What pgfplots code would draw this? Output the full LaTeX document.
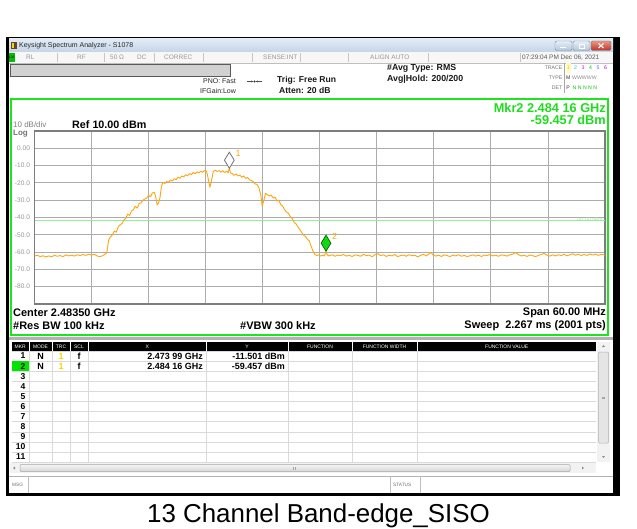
\documentclass[border=0pt]{standalone}
\usepackage{pgfplots}
\pgfplotsset{compat=1.18}
\usepackage{pgfplotstable}
\usetikzlibrary{arrows.meta}
\usepackage{fontspec}
\setmainfont{Liberation Sans}
\definecolor{tracec}{RGB}{255,165,15}
\definecolor{gridc}{RGB}{172,172,172}
\definecolor{framec}{RGB}{125,125,125}
\definecolor{scrgreen}{RGB}{30,228,30}
\definecolor{mkrgreen}{RGB}{30,220,30}
\definecolor{dlgreen}{RGB}{150,235,150}
\definecolor{lblgray}{RGB}{150,150,150}
\definecolor{stgray}{RGB}{150,150,150}
\definecolor{cellline}{RGB}{218,218,218}
\newcommand{\fs}[1]{\fontsize{#1}{#1}\selectfont}

\pgfplotstableread{
f p
2453.5 -62.3
2453.8 -61.8
2454.1 -62.6
2454.4 -62.1
2454.7 -62.8
2455.0 -62.2
2455.3 -62.7
2455.6 -61.9
2455.9 -62.4
2456.2 -62.0
2456.5 -62.6
2456.8 -61.6
2457.1 -62.2
2457.4 -61.8
2457.7 -62.3
2458.0 -61.5
2458.3 -62.0
2458.6 -61.4
2458.9 -61.9
2459.2 -61.2
2459.5 -61.7
2459.8 -61.3
2460.1 -62.3
2460.4 -62.6
2460.7 -62.0
2460.9 -61.2
2461.1 -60.5
2461.3 -53.0
2461.45 -51.5
2461.7 -50.0
2461.9 -47.8
2462.1 -48.5
2462.3 -45.5
2462.5 -44.2
2462.7 -43.5
2462.9 -41.5
2463.1 -40.5
2463.3 -38.0
2463.5 -38.8
2463.7 -36.2
2463.9 -35.5
2464.1 -33.5
2464.3 -34.6
2464.5 -32.0
2464.7 -31.5
2464.9 -30.0
2465.1 -29.3
2465.3 -28.8
2465.5 -27.2
2465.7 -28.0
2465.9 -25.8
2466.1 -25.5
2466.25 -28.0
2466.4 -32.8
2466.55 -31.5
2466.7 -28.5
2466.85 -22.0
2467.0 -19.8
2467.2 -20.3
2467.4 -19.2
2467.6 -19.6
2467.8 -18.3
2468.0 -18.8
2468.2 -17.6
2468.4 -18.1
2468.6 -16.7
2468.8 -17.3
2469.0 -16.0
2469.2 -16.5
2469.4 -15.3
2469.6 -15.9
2469.8 -14.6
2470.0 -15.2
2470.2 -14.0
2470.4 -14.7
2470.6 -13.6
2470.8 -14.2
2471.0 -13.2
2471.2 -13.9
2471.4 -12.6
2471.6 -13.4
2471.75 -17.0
2471.95 -22.5
2472.1 -19.0
2472.3 -13.5
2472.5 -12.6
2472.7 -13.4
2472.9 -12.9
2473.1 -13.8
2473.3 -13.0
2473.5 -14.0
2473.7 -13.2
2473.85 -14.2
2473.99 -11.5
2474.1 -14.2
2474.3 -14.6
2474.5 -15.6
2474.7 -14.8
2474.9 -16.0
2475.1 -15.5
2475.3 -16.7
2475.5 -16.0
2475.7 -17.4
2475.9 -16.8
2476.1 -18.2
2476.3 -18.6
2476.5 -19.3
2476.7 -20.6
2476.9 -20.9
2477.1 -22.8
2477.3 -27.0
2477.45 -33.5
2477.6 -30.5
2477.8 -26.0
2478.0 -26.8
2478.2 -27.5
2478.4 -27.0
2478.6 -28.8
2478.8 -28.2
2479.0 -30.5
2479.2 -30.0
2479.4 -32.6
2479.6 -33.4
2479.8 -35.5
2480.0 -36.8
2480.2 -37.6
2480.4 -39.5
2480.6 -40.6
2480.8 -42.8
2481.0 -43.6
2481.2 -45.4
2481.4 -47.0
2481.6 -48.6
2481.8 -50.2
2482.0 -51.0
2482.2 -52.5
2482.4 -53.5
2482.6 -56.8
2482.8 -59.5
2483.0 -61.4
2483.2 -62.0
2483.4 -61.6
2483.6 -62.3
2483.8 -61.8
2484.0 -62.2
2484.16 -59.5
2484.3 -61.8
2484.5 -62.2
2484.8 -61.5
2485.1 -62.4
2485.4 -61.7
2485.7 -62.0
2486.0 -61.4
2486.3 -62.3
2486.6 -61.8
2486.9 -62.6
2487.2 -61.6
2487.5 -61.9
2487.8 -62.4
2488.1 -61.3
2488.4 -62.1
2488.7 -61.7
2489.0 -62.7
2489.3 -61.5
2489.6 -60.9
2489.9 -62.0
2490.2 -61.6
2490.5 -62.5
2490.8 -61.8
2491.1 -62.2
2491.4 -61.4
2491.7 -62.6
2492.0 -62.0
2492.3 -61.7
2492.6 -62.4
2492.9 -61.5
2493.2 -62.1
2493.5 -61.8
2493.8 -62.7
2494.1 -61.9
2494.4 -61.3
2494.7 -62.2
2495.0 -61.0
2495.2 -60.2
2495.4 -61.6
2495.7 -62.3
2496.0 -61.8
2496.3 -62.5
2496.6 -61.6
2496.9 -62.0
2497.2 -62.6
2497.5 -61.7
2497.8 -62.2
2498.1 -61.5
2498.4 -62.4
2498.7 -61.9
2499.0 -62.6
2499.3 -62.1
2499.6 -61.6
2499.9 -62.3
2500.2 -61.8
2500.5 -62.5
2500.8 -61.7
2501.1 -62.0
2501.4 -61.4
2501.7 -62.2
2502.0 -61.8
2502.3 -62.4
2502.6 -61.6
2502.9 -61.9
2503.2 -62.3
2503.5 -61.5
2503.8 -61.2
2504.1 -60.3
2504.4 -61.5
2504.7 -62.2
2505.0 -61.8
2505.3 -62.5
2505.6 -61.7
2505.9 -62.1
2506.2 -62.6
2506.5 -61.9
2506.8 -61.3
2507.1 -60.8
2507.4 -61.8
2507.7 -62.3
2508.0 -61.6
2508.3 -62.2
2508.6 -61.5
2508.9 -62.0
2509.2 -61.3
2509.5 -62.1
2509.8 -61.6
2510.1 -61.0
2510.4 -61.8
2510.7 -61.2
2511.0 -62.0
2511.3 -61.4
2511.6 -61.9
2511.9 -61.1
2512.2 -61.7
2512.5 -61.2
2512.8 -61.9
2513.1 -61.3
2513.5 -61.8
}\tracedata

\begin{document}
\begin{tikzpicture}
\begin{scope}[x=1bp,y=-1bp]
\useasboundingbox (0,0) rectangle (637,529);
\fill[white] (0,0) rectangle (637,529);
% window frame
\fill[black] (6,37) rectangle (620,496);
\fill[white] (9,39) rectangle (613,493);
% title bar
\shade[top color={rgb,255:red,226;green,236;blue,247}, bottom color={rgb,255:red,196;green,211;blue,230}] (9,39) rectangle (613,52);
\fill[brown!55!black] (11,42) rectangle (17,49);
\fill[yellow!70!brown] (12,43) rectangle (14,48);
\node[anchor=west, font=\fs{7}, text=black!85, inner sep=0] at (19,45.5) {Keysight Spectrum Analyzer - S1078};
\shade[top color={rgb,255:red,230;green,238;blue,248}, bottom color={rgb,255:red,180;green,198;blue,222}, draw=black!45, rounded corners=1.5bp] (555,41) rectangle (572,50.5);
\draw[white, line width=1.2bp] (560,47.5) -- (566,47.5);
\shade[top color={rgb,255:red,230;green,238;blue,248}, bottom color={rgb,255:red,180;green,198;blue,222}, draw=black!45, rounded corners=1.5bp] (573,41) rectangle (590,50.5);
\draw[white, line width=0.8bp] (579,44) rectangle (584,48.5);
\shade[top color={rgb,255:red,235;green,150;blue,130}, bottom color={rgb,255:red,190;green,50;blue,35}, draw=black!55, rounded corners=1.5bp] (591,41) rectangle (611,50.5);
\draw[white, line width=1.1bp] (598.5,43.5) -- (603.5,48) (598.5,48) -- (603.5,43.5);
% status row
\fill[black!3] (9,52) rectangle (613,63);
\draw[black!25, line width=0.6bp] (9,63) -- (613,63);
\fill[green!75!black] (9,53) rectangle (15,62);
\node[font=\fs{3.5}, text=black, inner sep=0] at (12,57.5) {LXI};
\foreach \xx in {57,104,154,203,252,300,348,428,520} \draw[black!22, line width=0.6bp] (\xx,53) -- (\xx,62);
\begin{scope}[every node/.style={anchor=west, font=\fs{6.5}, text=stgray, inner sep=0}]
\node at (26,57.5) {RL};
\node at (77,57.5) {RF};
\node at (110,57.5) {50 Ω};
\node at (137,57.5) {DC};
\node at (164,57.5) {CORREC};
\node at (263,57.5) {SENSE:INT};
\node at (370,57.5) {ALIGN AUTO};
\node[text=black!65] at (522,57.5) {07:29:04 PM Dec 06, 2021};
\end{scope}
% gray bar
\fill[black!18, draw=black!65, line width=0.7bp] (10,64) rectangle (230,76);
% info lines
\node[anchor=west, font=\fs{7}, text=black!85, inner sep=0] at (203,81.5) {PNO: Fast};
\node[anchor=west, font=\fs{7}, text=black!85, inner sep=0] at (200,91) {IFGain:Low};
\draw[black!70, line width=0.6bp, -{Stealth[length=2.5bp]}] (247,81.5) -- (253.5,81.5);
\draw[black!70, line width=0.6bp, -{Stealth[length=2.5bp]}] (262,81.5) -- (255.5,81.5);
\fill[black!80] (254.5,81.5) circle (1.1bp);
\node[anchor=west, font=\fs{8.6}\bfseries, text=black!90, inner sep=0] at (277,80.5) {Trig: Free Run};
\node[anchor=west, font=\fs{8.6}\bfseries, text=black!90, inner sep=0] at (279,90.5) {Atten: 20 dB};
\node[anchor=west, font=\fs{8.8}\bfseries, text=black!90, inner sep=0] at (387,68.5) {\#Avg Type: RMS};
\node[anchor=west, font=\fs{8.8}\bfseries, text=black!90, inner sep=0] at (387,79) {Avg|Hold: 200/200};
% trace legend box
\begin{scope}[every node/.style={font=\fs{5.2}, inner sep=0}]
\node[anchor=east, text=black!55] at (562.5,68) {TRACE};
\node[anchor=east, text=black!55] at (562.5,78) {TYPE};
\node[anchor=east, text=black!55] at (562.5,87.5) {DET};
\draw[black!35, line width=0.5bp] (564.5,63.5) -- (564.5,93);
\fill[yellow!25] (565.5,63.5) rectangle (571,73);
\node[text={rgb,255:red,240;green,190;blue,0}] at (568.2,68) {1};
\node[text={rgb,255:red,0;green,200;blue,230}] at (575.5,68) {2};
\node[text={rgb,255:red,235;green,0;blue,235}] at (583,68) {3};
\node[text={rgb,255:red,0;green,200;blue,0}] at (590.5,68) {4};
\node[text={rgb,255:red,60;green,110;blue,255}] at (598,68) {5};
\node[text={rgb,255:red,170;green,0;blue,230}] at (605.5,68) {6};
\node[text=black!80] at (568.2,78) {M};
\node[text=black!45, anchor=west] at (572,78) {WWWWW};
\node[text=black!80] at (568.2,87.5) {P};
\node[text={rgb,255:red,0;green,200;blue,0}, anchor=west] at (572.5,87.5) {N N N N N};
\end{scope}
% green frame
\draw[scrgreen, line width=2bp] (11,99) rectangle (608,335);
\node[anchor=east, font=\fs{12.8}\bfseries, text=mkrgreen, inner sep=0] at (606,107.5) {Mkr2 2.484 16 GHz};
\node[anchor=east, font=\fs{12.8}\bfseries, text=mkrgreen, inner sep=0] at (606,120) {-59.457 dBm};
\node[anchor=west, font=\fs{8}, text=black!50, inner sep=0] at (13,124.3) {10 dB/div};
\node[anchor=west, font=\fs{10.8}\bfseries, text=black, inner sep=0] at (72,125) {Ref 10.00 dBm};
\node[anchor=west, font=\fs{8}\bfseries, text=black!55, inner sep=0] at (13,133.8) {Log};
\node[anchor=west, font=\fs{11}\bfseries, text=black, inner sep=0] at (13,313) {Center 2.48350 GHz};
\node[anchor=west, font=\fs{11}\bfseries, text=black, inner sep=0] at (13,326) {\#Res BW 100 kHz};
\node[anchor=west, font=\fs{11}\bfseries, text=black, inner sep=0] at (240,326) {\#VBW 300 kHz};
\node[anchor=east, font=\fs{11}\bfseries, text=black, inner sep=0] at (606,312.5) {Span 60.00 MHz};
\node[anchor=east, font=\fs{11}\bfseries, text=black, inner sep=0] at (606,326) {Sweep\ \ 2.267 ms (2001 pts)};
% separator
\fill[black!30] (9,337) rectangle (613,339.5);
% table header
\foreach \a/\b/\t in {12/28.5/MKR, 29.5/51.5/MODE, 52.5/69.5/TRC, 70.5/87.5/SCL, 89/205.5/X, 206.5/287.5/Y, 288.5/351.5/FUNCTION, 352.5/416.5/FUNCTION WIDTH, 417.5/596/FUNCTION VALUE}{
  \fill[black] (\a,342) rectangle (\b,350.5);
  \node[font=\fs{5}, text=white, inner sep=0] at ({(\a+\b)/2},346.3) {\t};
}
\foreach \k in {0,...,11} \draw[cellline, line width=0.5bp] (12,{351+10.1*\k}) -- (596,{351+10.1*\k});
\foreach \xx in {29,52,70,88,206,288,352,417} \draw[cellline, line width=0.5bp] (\xx,351) -- (\xx,462);
\fill[green!90!black] (12,361.3) rectangle (28.5,371);
\foreach \k in {1,...,11} \node[anchor=east, font=\fs{8.6}\bfseries, inner sep=0] at (25.5,{356+10.1*(\k-1)}) {\k};
\begin{scope}[every node/.style={font=\fs{9}\bfseries, inner sep=0}]
\node at (40.5,356) {N};
\node at (40.5,366.1) {N};
\node[text={rgb,255:red,245;green,215;blue,0}] at (61,356) {1};
\node[text={rgb,255:red,245;green,215;blue,0}] at (61,366.1) {1};
\node at (79,356) {f};
\node at (79,366.1) {f};
\node[anchor=east] at (203,356) {2.473 99 GHz};
\node[anchor=east] at (203,366.1) {2.484 16 GHz};
\node[anchor=east] at (285,356) {-11.501 dBm};
\node[anchor=east] at (285,366.1) {-59.457 dBm};
\end{scope}
% vertical scrollbar
\fill[black!5] (597,342) rectangle (610,462);
\fill[black!10, draw=black!30, line width=0.5bp, rounded corners=1bp] (598.5,352) rectangle (608.5,443);
\fill[black!45] (602,347) -- (605,347) -- (603.5,345) -- cycle;
\fill[black!45] (602,456) -- (605,456) -- (603.5,458) -- cycle;
\draw[black!35, line width=0.4bp] (602,397) -- (605,397) (602,398.5) -- (605,398.5);
% horizontal scrollbar
\fill[black!5] (10,463) rectangle (596,473);
\shade[top color=black!4, bottom color=black!16, draw=black!35, line width=0.5bp, rounded corners=1bp] (20,464.5) rectangle (570,471.5);
\fill[black!45] (15,466.5) -- (15,469.5) -- (13,468) -- cycle;
\fill[black!45] (582,466.5) -- (582,469.5) -- (584,468) -- cycle;
\draw[black!35, line width=0.4bp] (293,466.5) -- (293,469.5) (295,466.5) -- (295,469.5);
% msg row
\draw[black!30, line width=0.6bp] (9,476) -- (613,476);
\draw[black!25, line width=0.5bp] (28,476) -- (28,493) (390,476) -- (390,493) (420,476) -- (420,493);
\node[anchor=west, font=\fs{4.8}, text=black!55, inner sep=0] at (12,484.5) {MSG};
\node[anchor=west, font=\fs{4.8}, text=black!55, inner sep=0] at (393,484.5) {STATUS};
% caption
\node[anchor=base, font=\fs{26}, inner sep=0] at (318.5,522) {13 Channel Band-edge\_SISO};
\end{scope}

\begin{axis}[
  at={(34.5bp,-304bp)}, anchor=south west,
  scale only axis, width=570.5bp, height=173bp,
  xmin=2453.5, xmax=2513.5, ymin=-90, ymax=10,
  xtick={2459.5,2465.5,2471.5,2477.5,2483.5,2489.5,2495.5,2501.5,2507.5},
  xticklabels={},
  ytick={-80,-70,-60,-50,-40,-30,-20,-10,0},
  yticklabels={-80.0,-70.0,-60.0,-50.0,-40.0,-30.0,-20.0,-10.0,0.00},
  yticklabel style={font=\fs{6.6}, text=lblgray, xshift=-1bp},
  grid=major, major grid style={draw=gridc, line width=0.9bp},
  major tick length=0pt,
  axis line style={draw=framec, line width=1.3bp},
  clip=true,
]
\addplot[dlgreen, line width=1bp, forget plot] coordinates {(2453.5,-41.5) (2513.5,-41.5)};
\addplot[tracec, line width=0.9bp, line join=round] table[x=f, y=p] {\tracedata};
\addplot[only marks, mark=diamond*, mark size=8bp, mark options={xscale=0.82, yshift=8bp, fill=white, draw=black!55, line width=0.8bp}] coordinates {(2473.99,-11.501)};
\addplot[only marks, mark=diamond*, mark size=8bp, mark options={xscale=0.82, yshift=8bp, fill={rgb,255:red,20;green,215;blue,20}, draw=green!40!black, line width=0.7bp}] coordinates {(2484.16,-59.457)};
\node[anchor=west, font=\fs{9}, text=tracec, inner sep=0, xshift=6bp, yshift=15bp] at (axis cs:2473.99,-11.501) {1};
\node[anchor=west, font=\fs{9}, text=tracec, inner sep=0, xshift=6bp, yshift=15bp] at (axis cs:2484.16,-59.457) {2};
\node[anchor=south east, font=\fs{5}, text=dlgreen, inner sep=0.5bp] at (axis cs:2513.3,-42.5) {-41.50 dBm};
\end{axis}
\end{tikzpicture}
\end{document}
